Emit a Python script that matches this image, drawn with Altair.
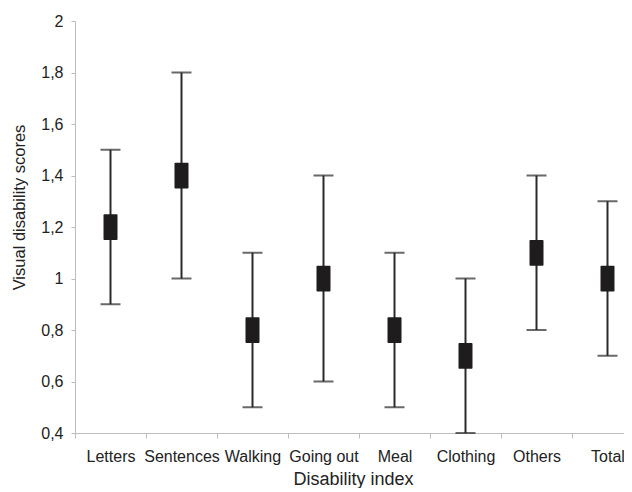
import altair as alt
import pandas as pd

categories = ["Letters", "Sentences", "Walking", "Going out", "Meal", "Clothing", "Others", "Total"]
lows = [0.9, 1.0, 0.5, 0.6, 0.5, 0.4, 0.8, 0.7]
highs = [1.5, 1.8, 1.1, 1.4, 1.1, 1.0, 1.4, 1.3]
box_lo = [1.15, 1.35, 0.75, 0.95, 0.75, 0.65, 1.05, 0.95]
box_hi = [1.25, 1.45, 0.85, 1.05, 0.85, 0.75, 1.15, 1.05]
y_ticks = [0.4, 0.6, 0.8, 1.0, 1.2, 1.4, 1.6, 1.8, 2.0]

df = pd.DataFrame({"cat": categories, "lo": lows, "hi": highs, "blo": box_lo, "bhi": box_hi})

FONT = "Liberation Sans"

x_enc = alt.X(
    "cat:N",
    sort=categories,
    scale=alt.Scale(paddingInner=0, paddingOuter=0, range=[0, 568]),
    axis=alt.Axis(
        title="Disability index",
        tickBand="extent",
        labelAngle=0,
        labelPadding=10,
        tickSize=5,
        titlePadding=6,
        titleX=278,
        titleFontSize=18,
    ),
)
y_scale = alt.Scale(domain=[0.4, 2.0], nice=False, zero=False)
y_axis = alt.Axis(
    title="Visual disability scores",
    values=y_ticks,
    labelExpr="replace(format(datum.value, '.2~f'), '.', ',')",
    tickSize=4,
    labelPadding=8,
    titlePadding=13,
    titleFontSize=16.5,
    titleY=186,
)

base = alt.Chart(df)

rules = base.mark_rule(color="#2a2a2a", strokeWidth=2).encode(
    x=x_enc, y=alt.Y("lo:Q", scale=y_scale, axis=y_axis), y2="hi:Q"
)
caps_lo = base.mark_tick(color="#2a2a2a", thickness=2, size=20).encode(
    x=x_enc, y=alt.Y("lo:Q", scale=y_scale)
)
caps_hi = base.mark_tick(color="#2a2a2a", thickness=2, size=20).encode(
    x=x_enc, y=alt.Y("hi:Q", scale=y_scale)
)
boxes = base.mark_bar(color="#1e1c1c", width=14, cornerRadius=1).encode(
    x=x_enc, y=alt.Y("blo:Q", scale=y_scale), y2="bhi:Q"
)

chart = (
    alt.layer(rules, caps_lo, caps_hi, boxes)
    .properties(
        width=545,
        height=412,
        autosize=alt.AutoSizeParams(type="none"),
        padding={"left": 67, "top": 13, "right": 4, "bottom": 55},
    )
    .configure_view(stroke=None)
    .configure_axis(
        grid=False,
        domainColor="#bdbdbd",
        tickColor="#bdbdbd",
        labelFont=FONT,
        titleFont=FONT,
        labelFontSize=16,
        labelColor="#222222",
        titleColor="#222222",
        titleFontWeight="normal",
    )
)

chart.save("out.html", embed_options={"renderer": "svg", "actions": False})
